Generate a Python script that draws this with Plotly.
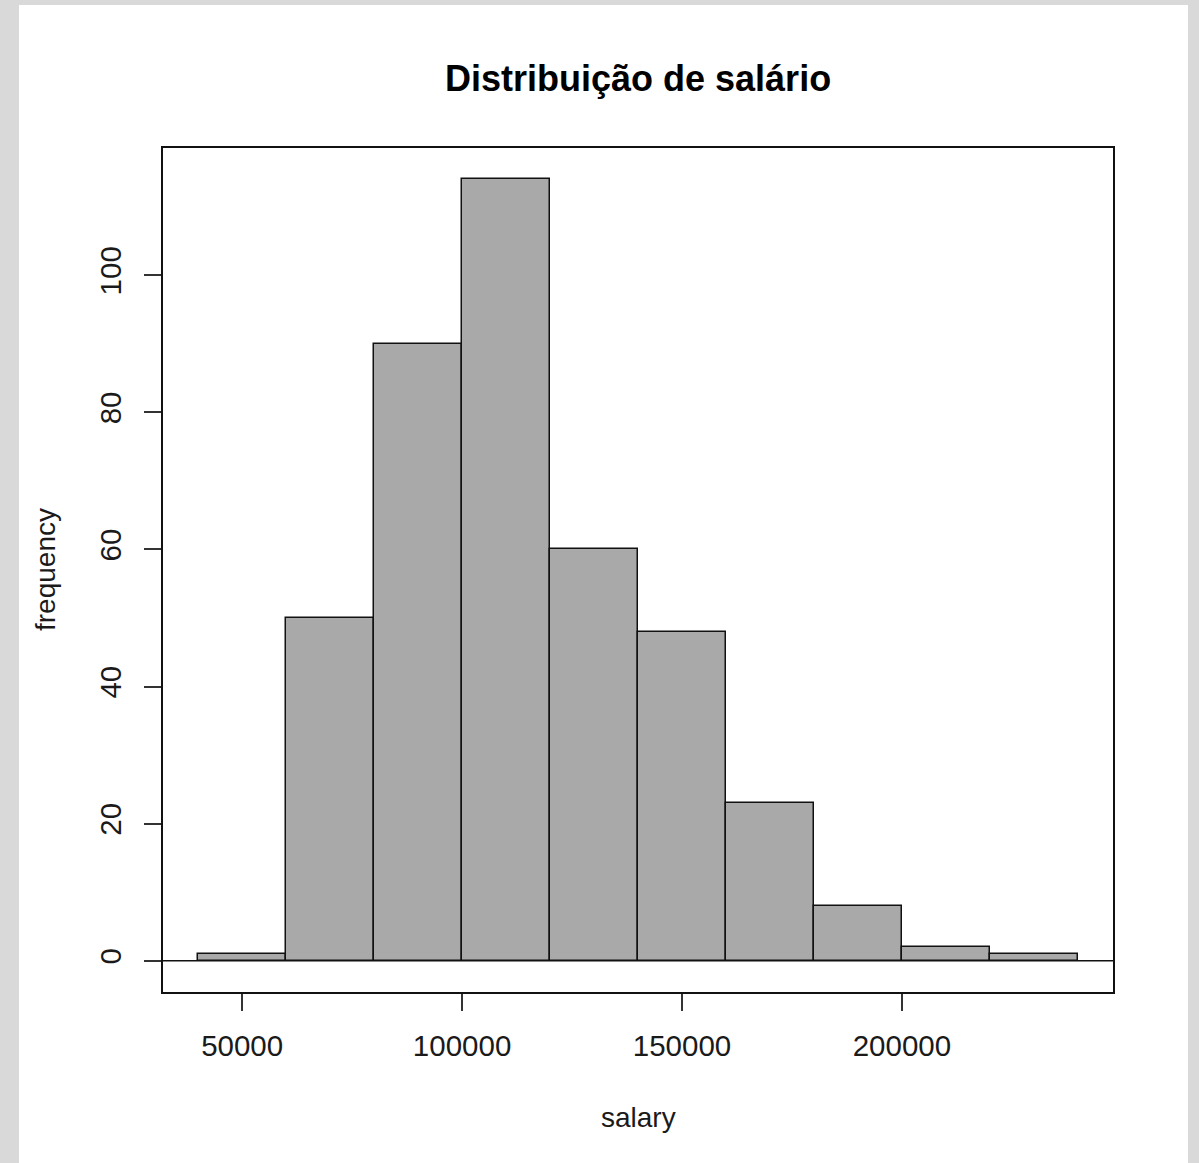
import plotly.graph_objects as go

# Histogram of salaries: bin edges and counts per bin
bin_left = [40000, 60000, 80000, 100000, 120000, 140000, 160000, 180000, 200000, 220000]
bin_width = 20000
counts = [1, 50, 90, 114, 60, 48, 23, 8, 2, 1]

x_ticks = [50000, 100000, 150000, 200000]
y_ticks = [0, 20, 40, 60, 80, 100]

title_text = "Distribuição de salário"
x_label = "salary"
y_label = "frequency"

W, H = 1199, 1163
L, R, T, B = 163, 86, 148, 171
pw, ph = W - L - R, H - T - B

font_family = "Liberation Sans, Arial, sans-serif"
ink = "#1a1a1a"

centers = [b + bin_width / 2 for b in bin_left]

fig = go.Figure(
    go.Bar(
        x=centers,
        y=counts,
        width=[bin_width] * len(counts),
        marker=dict(color="#a9a9a9", line=dict(color="#111111", width=1.5)),
        hoverinfo="x+y",
    )
)

# x/y in paper units from pixel positions of the page
def px(xp):
    return (xp - L) / pw

def py(yp):
    return (H - B - yp) / ph

shapes = [
    # baseline at zero
    dict(type="line", xref="paper", yref="y", x0=0, x1=1, y0=0, y1=0,
         line=dict(color="#111111", width=1.5)),
    # outer grey frame bands
    dict(type="rect", xref="paper", yref="paper", x0=px(0), x1=px(19), y0=py(H), y1=py(0),
         fillcolor="#d9d9d9", line=dict(width=0), layer="above"),
    dict(type="rect", xref="paper", yref="paper", x0=px(1188), x1=px(W), y0=py(H), y1=py(0),
         fillcolor="#d9d9d9", line=dict(width=0), layer="above"),
    dict(type="rect", xref="paper", yref="paper", x0=px(0), x1=px(W), y0=py(5), y1=py(0),
         fillcolor="#d9d9d9", line=dict(width=0), layer="above"),
]

annotations = [
    dict(text=f"<b>{title_text}</b>", xref="paper", yref="paper", x=0.5, y=py(78),
         xanchor="center", yanchor="middle", showarrow=False,
         font=dict(size=36, color="#000000", family=font_family)),
    dict(text=x_label, xref="paper", yref="paper", x=px(638), y=py(1117),
         xanchor="center", yanchor="middle", showarrow=False,
         font=dict(size=28, color=ink, family=font_family)),
    dict(text=y_label, xref="paper", yref="paper", x=px(45), y=0.5,
         xanchor="center", yanchor="middle", showarrow=False, textangle=-90,
         font=dict(size=28, color=ink, family=font_family)),
]

fig.update_layout(
    width=W,
    height=H,
    margin=dict(l=L, r=R, t=T, b=B, pad=0),
    paper_bgcolor="white",
    plot_bgcolor="white",
    showlegend=False,
    bargap=0,
    shapes=shapes,
    annotations=annotations,
    font=dict(family=font_family, color=ink),
)

fig.update_xaxes(
    range=[32000, 248000],
    tickmode="array",
    tickvals=x_ticks,
    ticktext=[str(v) for v in x_ticks],
    ticks="outside",
    ticklen=17,
    tickwidth=1.5,
    tickcolor="#333333",
    showline=True,
    linecolor="#111111",
    linewidth=1.5,
    mirror=True,
    showgrid=False,
    zeroline=False,
    tickfont=dict(size=29.5, color=ink, family=font_family),
    ticklabelstandoff=10,
)

fig.update_yaxes(
    range=[-4.56, 118.56],
    tickmode="array",
    tickvals=y_ticks,
    ticktext=[str(v) for v in y_ticks],
    ticks="outside",
    ticklen=17,
    tickwidth=1.5,
    tickcolor="#333333",
    tickangle=-90,
    showline=True,
    linecolor="#111111",
    linewidth=1.5,
    mirror=True,
    showgrid=False,
    zeroline=False,
    tickfont=dict(size=29.5, color=ink, family=font_family),
    ticklabelstandoff=11,
)

fig.write_html("out.html")
